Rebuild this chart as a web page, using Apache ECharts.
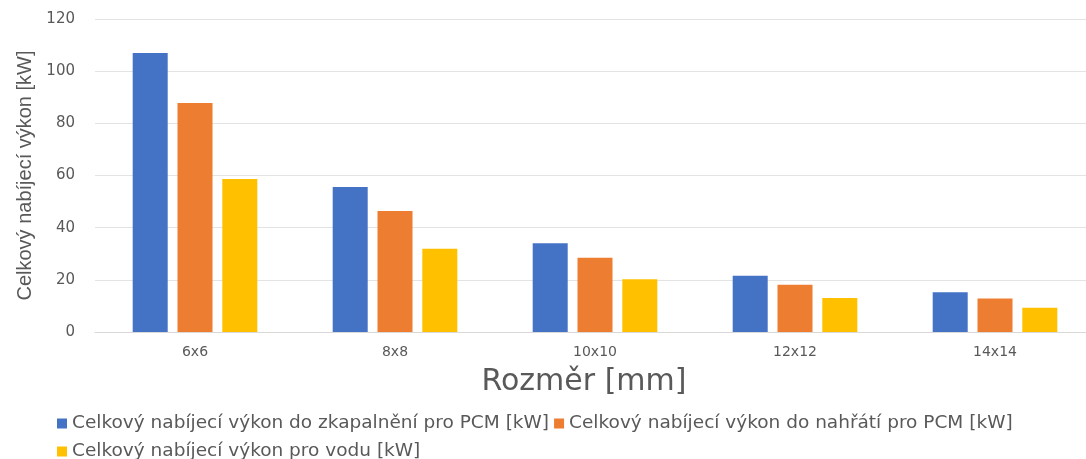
<!DOCTYPE html>
<html>
<head>
<meta charset="utf-8">
<script src="https://cdn.jsdelivr.net/npm/echarts@6/dist/echarts.min.js"></script>
<style>
  html, body { margin: 0; padding: 0; background: #fff; }
  #chart { width: 1086px; height: 459px; }
</style>
</head>
<body>
<div id="chart"></div>
<script>
// kategorie a hodnoty
var categories = ['6x6', '8x8', '10x10', '12x12', '14x14']
var nameMelt = 'Celkový nabíjecí výkon do zkapalnění pro PCM [kW]'
var nameHeat = 'Celkový nabíjecí výkon do nahřátí pro PCM [kW]'
var nameWater = 'Celkový nabíjecí výkon pro vodu [kW]'
var meltValues = [107.0, 55.6, 34.0, 21.6, 15.2]
var heatValues = [87.8, 46.4, 28.5, 18.1, 12.8]
var waterValues = [58.7, 31.9, 20.2, 13.0, 9.3]
var yTicks = { min: 0, max: 120, interval: 20 }

var chart = echarts.init(document.getElementById('chart'))
var textColor = '#595959'
var legendText = { color: textColor, fontSize: 18.5, fontFamily: 'DejaVu Sans' }

var option = {
  animation: false,
  // plocha grafu přesahuje pravý okraj (ořezaný obrázek)
  grid: { left: 95, width: 1000, top: 19, bottom: 127, outerBoundsMode: 'none' },
  legend: [
    {
      data: [nameMelt, nameHeat],
      left: 52, top: 409,
      itemWidth: 10, itemHeight: 10, itemGap: 5,
      icon: 'rect',
      textStyle: legendText
    },
    {
      data: [nameWater],
      left: 52, top: 437,
      itemWidth: 10, itemHeight: 10,
      icon: 'rect',
      textStyle: legendText
    }
  ],
  xAxis: {
    type: 'category',
    data: categories,
    name: 'Rozměr [mm]',
    nameLocation: 'middle',
    nameGap: 35,
    nameTextStyle: { color: textColor, fontSize: 30, fontFamily: 'DejaVu Sans', padding: [0, 22, 0, 0] },
    axisLine: { lineStyle: { color: '#d9d9d9' } },
    axisTick: { show: false },
    axisLabel: { color: textColor, fontSize: 14, margin: 13, fontFamily: 'DejaVu Sans' }
  },
  yAxis: {
    type: 'value',
    min: yTicks.min,
    max: yTicks.max,
    interval: yTicks.interval,
    name: 'Celkový nabíjecí výkon [kW]',
    nameLocation: 'middle',
    nameGap: 58,
    nameTextStyle: { color: textColor, fontSize: 20, fontFamily: 'Liberation Sans Narrow, Liberation Sans, sans-serif' },
    axisLabel: { color: textColor, fontSize: 15, margin: 20, fontFamily: 'DejaVu Sans' },
    splitLine: { lineStyle: { color: '#e3e3e3' } }
  },
  series: [
    { name: nameMelt, type: 'bar', data: meltValues, barWidth: 35, barGap: '28%', itemStyle: { color: '#4472c4' } },
    { name: nameHeat, type: 'bar', data: heatValues, barWidth: 35, barGap: '28%', itemStyle: { color: '#ed7d31' } },
    { name: nameWater, type: 'bar', data: waterValues, barWidth: 35, barGap: '28%', itemStyle: { color: '#ffc000' } }
  ]
}

chart.setOption(option)
</script>
</body>
</html>
